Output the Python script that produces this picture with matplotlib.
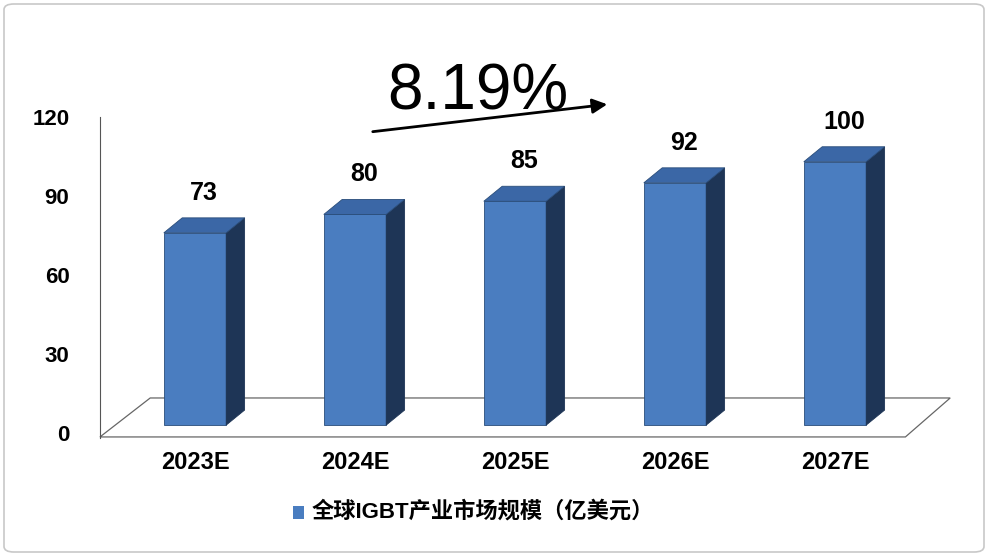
import matplotlib
matplotlib.use("Agg")
import matplotlib.pyplot as plt
from matplotlib.patches import Polygon, FancyBboxPatch

plt.rcParams['font.family'] = ['Liberation Sans', 'Noto Sans CJK SC', 'DejaVu Sans']

categories = ["2023E", "2024E", "2025E", "2026E", "2027E"]
values = [73, 80, 85, 92, 100]
yticks = [0, 30, 60, 90, 120]
legend_label = "全球IGBT产业市场规模（亿美元）"
growth = "8.19%"

W, H = 988, 556
fig = plt.figure(figsize=(W/100, H/100), dpi=100)
fig.patches.append(FancyBboxPatch((4/W, 4/H), 1-8/W, 1-8/H, boxstyle="round,pad=0,rounding_size=0.01",
                                  transform=fig.transFigure, fc="none", ec="#c8c8c8", lw=1.2, zorder=-1))
x0, x1, y0, y1 = 100, 950, 433, 117
ax = fig.add_axes([x0/W, 1-y0/H, (x1-x0)/W, (y0-y1)/H])
ax.set_xlim((x0-195)/160, (x1-195)/160)
ax.set_ylim(0, 120)
ax.patch.set_alpha(0)
for s in ["top", "right", "bottom"]:
    ax.spines[s].set_visible(False)
ax.spines["left"].set_color("#555555")
ax.spines["left"].set_bounds(-2, 120)
ax.set_yticks(yticks)
ax.set_yticklabels([str(v) for v in yticks], fontsize=16, fontweight="bold")
ax.tick_params(axis="y", length=0, pad=22)
ax.set_xticks([])

dx, dy = 0.115, 5.7
w = 0.39
base = 3
floor = Polygon([(-0.594, -1.5), (4.44, -1.5), (4.72, 13.3), (-0.28, 13.3)], closed=True,
                fc="white", ec="#666666", lw=0.9, clip_on=False, zorder=1)
ax.add_patch(floor)
for i, (c, v) in enumerate(zip(categories, values)):
    xl = i - w/2
    top = base + v
    ax.bar(xl, v, bottom=base, width=w, align="edge", color="#4a7dc0", edgecolor="#2a4d7a", lw=0.6, zorder=3)
    ax.add_patch(Polygon([(xl+w, base), (xl+w+dx, base+dy), (xl+w+dx, top+dy), (xl+w, top)],
                         fc="#1e3556", ec="#1e3556", lw=0.6, zorder=3))
    ax.add_patch(Polygon([(xl, top), (xl+dx, top+dy), (xl+w+dx, top+dy), (xl+w, top)],
                         fc="#3b67a6", ec="#2a4d7a", lw=0.6, zorder=3))
    ax.text(xl + w/2 + dx/2, top + dy + 5, str(v), ha="center", va="bottom",
            fontsize=18, fontweight="bold", zorder=4)
    ax.text(i, -7, c, ha="center", va="top", fontsize=17, fontweight="bold")

fig.text(478/W, 1-93/H, growth, ha="center", va="center", fontsize=46)
ax.annotate("", xy=(610/W, 1-104/H), xytext=(370/W, 1-132/H), xycoords="figure fraction",
            arrowprops=dict(arrowstyle="-|>", color="black", lw=2, mutation_scale=22))
fig.patches.append(plt.Rectangle((293/W, 1-519/H), 11/W, 13/H, transform=fig.transFigure,
                                 fc="#4a7dc0", ec="none"))
fig.text(312/W, 1-512/H, legend_label, ha="left", va="center", fontsize=16, fontweight="bold")
fig.savefig("out.png", dpi=100)
